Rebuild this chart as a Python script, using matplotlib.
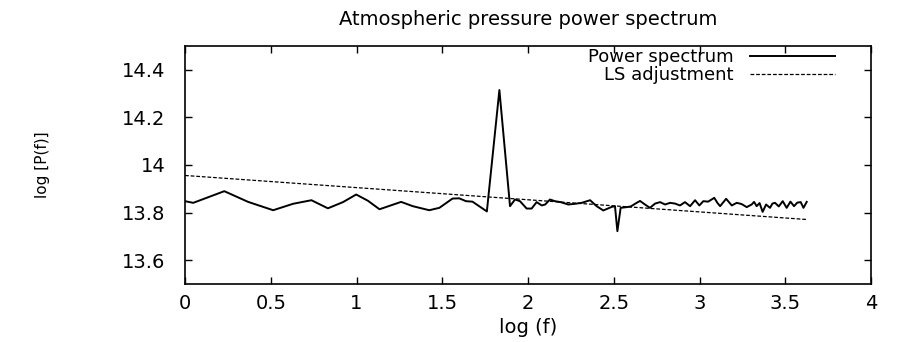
import matplotlib.pyplot as plt

# log(f) and log[P(f)]
log_f = [0.0, 0.048, 0.229, 0.368, 0.514, 0.63, 0.737, 0.833, 0.921, 0.998,
         1.066, 1.134, 1.26, 1.328, 1.424, 1.483, 1.56, 1.599, 1.638, 1.676,
         1.76, 1.833, 1.895, 1.924, 1.953, 1.992, 2.021, 2.05, 2.08, 2.1,
         2.128, 2.157, 2.19, 2.235, 2.274, 2.313, 2.362, 2.40, 2.439, 2.488,
         2.507, 2.521, 2.54, 2.575, 2.60, 2.624, 2.653, 2.682, 2.711, 2.741,
         2.77, 2.799, 2.828, 2.857, 2.886, 2.915, 2.945, 2.974, 2.999, 3.022,
         3.05, 3.086, 3.105, 3.12, 3.155, 3.188, 3.217, 3.245, 3.275, 3.304,
         3.318, 3.333, 3.35, 3.368, 3.388, 3.411, 3.425, 3.44, 3.462, 3.485,
         3.508, 3.53, 3.551, 3.57, 3.59, 3.606, 3.625]
log_p = [13.848, 13.841, 13.89, 13.845, 13.81, 13.837, 13.852, 13.818, 13.844, 13.876,
         13.85, 13.814, 13.845, 13.827, 13.81, 13.82, 13.859, 13.86, 13.848, 13.846,
         13.805, 14.315, 13.827, 13.855, 13.848, 13.817, 13.817, 13.844, 13.83, 13.834,
         13.855, 13.848, 13.844, 13.834, 13.837, 13.841, 13.852, 13.827, 13.809, 13.824,
         13.827, 13.722, 13.82, 13.823, 13.826, 13.837, 13.849, 13.834, 13.82, 13.838,
         13.844, 13.834, 13.841, 13.838, 13.83, 13.844, 13.827, 13.852, 13.83, 13.848,
         13.846, 13.862, 13.84, 13.827, 13.858, 13.83, 13.841, 13.836, 13.823, 13.834,
         13.845, 13.827, 13.84, 13.803, 13.834, 13.82, 13.838, 13.841, 13.826, 13.848,
         13.82, 13.846, 13.827, 13.842, 13.844, 13.82, 13.845]

# least squares line end points
ls_f = [0.0, 3.625]
ls_p = [13.956, 13.771]

x_ticks = [0, 0.5, 1, 1.5, 2, 2.5, 3, 3.5, 4]
y_ticks = [13.6, 13.8, 14.0, 14.2, 14.4]
y_tick_labels = ['13.6', '13.8', '14', '14.2', '14.4']

plt.rcParams['font.family'] = ['DejaVu Sans']

fig = plt.figure(figsize=(8.99, 3.42), dpi=100)
ax = fig.add_axes([0.2058, 0.1696, 0.9689 - 0.2058, 0.8655 - 0.1696])

ax.plot(log_f, log_p, color='black', lw=1.4, label='Power spectrum')
ax.plot(ls_f, ls_p, color='black', lw=0.9, dashes=(3, 1.5), label='LS adjustment')

ax.set_xlim(0, 4)
ax.set_ylim(13.5, 14.5)
ax.set_xticks(x_ticks)
ax.set_xticklabels([('%g' % t) for t in x_ticks])
ax.set_yticks(y_ticks)
ax.set_yticklabels(y_tick_labels)
ax.tick_params(direction='in', length=5, width=1, top=True, right=True,
               labelsize=14)
ax.tick_params(axis='y', pad=14)
ax.tick_params(axis='x', pad=7)
for s in ax.spines.values():
    s.set_linewidth(1.2)

ax.set_title('Atmospheric pressure power spectrum', fontsize=14, pad=15)
ax.set_xlabel('log (f)', fontsize=14, labelpad=4)
ax.set_ylabel('log [P(f)]', fontsize=11, labelpad=52)

ax.legend(loc='upper right', bbox_to_anchor=(0.958, 1.02), frameon=False,
          markerfirst=False, fontsize=13, handlelength=4.7,
          handletextpad=0.9, labelspacing=0.0, borderaxespad=0)

fig.savefig('out.png', dpi=100)
